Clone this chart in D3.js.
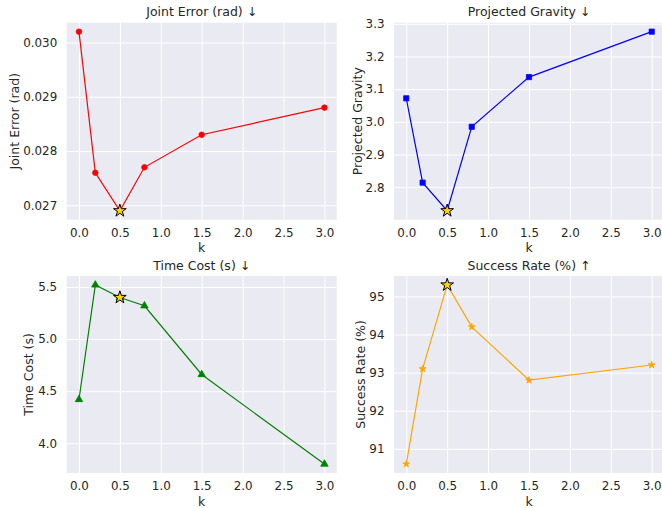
<!DOCTYPE html>
<html><head><meta charset="utf-8">
<script src="https://cdn.jsdelivr.net/npm/d3@7"></script>
<style>body{margin:0;background:#fff}svg{display:block}text{font-family:"DejaVu Sans",sans-serif;fill:#262626}</style>
</head><body><svg id="c" width="662" height="508"></svg>
<script>
const kValues = [0, 0.2, 0.5, 0.8, 1.5, 3.0];
const jointError = [0.0302, 0.0276, 0.0269, 0.0277, 0.0283, 0.0288];
const projectedGravity = [3.072, 2.814, 2.728, 2.985, 3.137, 3.276];
const timeCost = [4.42, 5.52, 5.40, 5.32, 4.66, 3.80];
const successRate = [90.6, 93.1, 95.3, 94.2, 92.8, 93.2];
const xTicks = [0, 0.5, 1.0, 1.5, 2.0, 2.5, 3.0];
const jointTicks = [0.027, 0.028, 0.029, 0.030];
const gravityTicks = [2.8, 2.9, 3.0, 3.1, 3.2, 3.3];
const timeTicks = [4.0, 4.5, 5.0, 5.5];
const successTicks = [91, 92, 93, 94, 95];
const bestIndex = 2;

const panels = [
  {title:"Joint Error (rad) ↓", ylabel:"Joint Error (rad)", values:jointError, ticks:jointTicks, fmt:".3f", color:"red", marker:"circle", left:66.7, top:22.7, ylabX:19},
  {title:"Projected Gravity ↓", ylabel:"Projected Gravity", values:projectedGravity, ticks:gravityTicks, fmt:".1f", color:"blue", marker:"square", left:394, top:22.7, ylabX:362},
  {title:"Time Cost (s) ↓", ylabel:"Time Cost (s)", values:timeCost, ticks:timeTicks, fmt:".1f", color:"green", marker:"triangle", left:66.7, top:276, ylabX:33},
  {title:"Success Rate (%) ↑", ylabel:"Success Rate (%)", values:successRate, ticks:successTicks, fmt:"d", color:"orange", marker:"star", left:394, top:276, ylabX:365}
];
const W = 270, H = 197;
const svg = d3.select("#c");
const symMap = {circle:[d3.symbolCircle, 24], square:[d3.symbolSquare, 27], triangle:[d3.symbolTriangle, 24], star:[d3.symbolStar, 15]};

function pad(ext){const r = ext[1]-ext[0]; return [ext[0]-0.05*r, ext[1]+0.05*r];}

panels.forEach(p => {
  const g = svg.append("g").attr("transform", `translate(${p.left},${p.top})`);
  const x = d3.scaleLinear().domain(pad(d3.extent(kValues))).range([0, W]);
  const y = d3.scaleLinear().domain(pad(d3.extent(p.values))).range([H, 0]);
  g.append("rect").attr("width", W).attr("height", H).attr("fill", "#EAEAF2");
  const xa = g.append("g").attr("transform", `translate(0,${H})`)
    .call(d3.axisBottom(x).tickValues(xTicks).tickFormat(d3.format(".1f")).tickSize(-H).tickPadding(8.5));
  const ya = g.append("g")
    .call(d3.axisLeft(y).tickValues(p.ticks).tickFormat(d3.format(p.fmt)).tickSize(-W).tickPadding(9.5));
  [xa, ya].forEach(a => {
    a.select(".domain").remove();
    a.selectAll("line").attr("stroke", "#fff").attr("stroke-width", 1);
    a.selectAll("text").attr("font-size", 11.9).attr("fill", "#262626");
  });
  const line = d3.line().x((d,i) => x(kValues[i])).y(d => y(d));
  g.append("path").datum(p.values).attr("d", line).attr("fill", "none").attr("stroke", p.color).attr("stroke-width", 1.2);
  const [sym, size] = symMap[p.marker];
  g.selectAll(".m").data(p.values).enter().append("path")
    .attr("d", d3.symbol().type(sym).size(size))
    .attr("transform", (d,i) => `translate(${x(kValues[i])},${y(d)})`)
    .attr("fill", p.color).attr("stroke", p.color).attr("stroke-width", 0.8);
  g.append("path").attr("d", d3.symbol().type(d3.symbolStar).size(50))
    .attr("transform", `translate(${x(kValues[bestIndex])},${y(p.values[bestIndex])})`)
    .attr("fill", "gold").attr("stroke", "black").attr("stroke-width", 1);
  g.append("text").attr("x", W/2).attr("y", -6.5).attr("text-anchor", "middle").attr("font-size", 12.5).text(p.title);
  g.append("text").attr("x", W/2).attr("y", H + 32.7).attr("text-anchor", "middle").attr("font-size", 12.5).text("k");
  svg.append("text").attr("transform", `translate(${p.ylabX},${p.top + H/2}) rotate(-90)`)
    .attr("text-anchor", "middle").attr("font-size", 12.5).text(p.ylabel);
});
</script></body></html>
